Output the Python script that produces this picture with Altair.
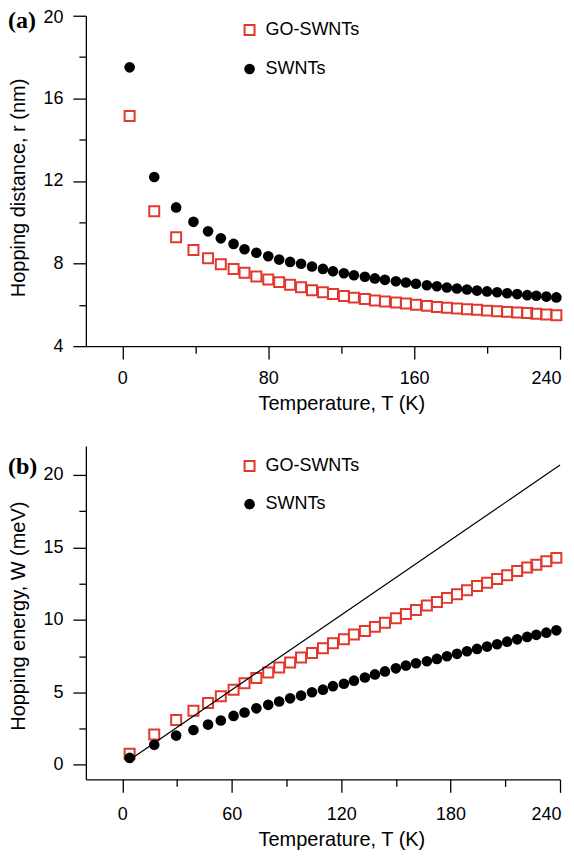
import altair as alt
import pandas as pd

# ---------------- data ----------------
T = [4, 17.5, 29.5, 39, 47, 54, 61, 67, 73.5, 80, 86, 92, 98, 104, 110, 115.5,
     121.5, 127, 133, 138.5, 144, 150, 155.5, 161, 167, 172.5, 178, 183.5, 189,
     194.5, 200, 205.5, 211, 216.5, 222, 227, 232.5, 238]

r_go = [15.15, 10.53, 9.27, 8.66, 8.26, 7.97, 7.74, 7.55, 7.37, 7.23, 7.10, 6.97,
        6.85, 6.71, 6.61, 6.52, 6.43, 6.35, 6.28, 6.21, 6.16, 6.11, 6.06, 6.01,
        5.95, 5.90, 5.86, 5.82, 5.79, 5.76, 5.72, 5.69, 5.66, 5.63, 5.60, 5.57,
        5.53, 5.50]
r_sw = [17.5, 12.19, 10.72, 10.02, 9.56, 9.22, 8.95, 8.69, 8.52, 8.35, 8.19, 8.08,
        7.99, 7.86, 7.74, 7.63, 7.53, 7.43, 7.36, 7.28, 7.21, 7.14, 7.08, 7.02,
        6.95, 6.90, 6.84, 6.79, 6.74, 6.69, 6.65, 6.61, 6.56, 6.52, 6.47, 6.44,
        6.40, 6.36]

w_go = [0.76, 2.09, 3.10, 3.74, 4.27, 4.73, 5.19, 5.63, 6.00, 6.37, 6.71, 7.06,
        7.40, 7.72, 8.04, 8.39, 8.66, 8.99, 9.24, 9.52, 9.81, 10.11, 10.41, 10.69,
        10.99, 11.24, 11.52, 11.77, 12.04, 12.34, 12.57, 12.83, 13.08, 13.38,
        13.61, 13.81, 14.04, 14.28]
w_sw = [0.48, 1.38, 2.02, 2.41, 2.78, 3.06, 3.38, 3.61, 3.90, 4.14, 4.37, 4.59,
        4.78, 5.01, 5.19, 5.43, 5.60, 5.81, 6.03, 6.24, 6.45, 6.66, 6.85, 7.01,
        7.15, 7.31, 7.49, 7.66, 7.84, 8.00, 8.16, 8.32, 8.50, 8.66, 8.83, 8.97,
        9.12, 9.28]

line_T = [6.5, 240]
line_W = [0.56, 20.68]

series = ["GO-SWNTs", "SWNTs"]
panel_labels = ["(a)", "(b)"]
x_title = "Temperature, T (K)"
ya_title = "Hopping distance, r (nm)"
yb_title = "Hopping energy, W (meV)"

xa_ticks = [0, 40, 80, 120, 160, 200, 240]
ya_ticks = [4, 6, 8, 10, 12, 14, 16, 18, 20]
xb_ticks = [0, 30, 60, 90, 120, 150, 180, 210, 240]
yb_ticks = [0, 2.5, 5, 7.5, 10, 12.5, 15, 17.5, 20]

RED = "#e2382e"
FONT = "Liberation Sans"

df = pd.DataFrame({"T": T, "r_go": r_go, "r_sw": r_sw, "w_go": w_go, "w_sw": w_sw})
line_df = pd.DataFrame({"T": line_T, "W": line_W})

xscale = alt.Scale(domain=[-20, 240], nice=False, zero=False)


def tick_size(test):
    return {"condition": {"test": test, "value": 13}, "value": 7}


def x_axis(values, major, lab_pad, title_y):
    test = f"datum.value % {major} === 0"
    return alt.Axis(values=values, format="d",
                    labelExpr=f"{test} ? datum.label : ''",
                    tickSize=tick_size(test), labelPadding=lab_pad,
                    labelOffset={"condition": {"test": "datum.value === 240", "value": -14},
                                 "value": 0},
                    labelFlush=False, labelOverlap=False,
                    title=x_title, titleX=256, titleY=title_y,
                    titleAlign="center", titleBaseline="alphabetic")


def y_axis(values, major, title, title_y, top_value, top_shift):
    test = f"datum.value % {major} === 0"
    return alt.Axis(values=values, format="d",
                    labelExpr=f"{test} ? datum.label : ''",
                    tickSize=tick_size(test), labelPadding=10,
                    labelOffset={"condition": {"test": f"datum.value === {top_value}",
                                               "value": top_shift}, "value": 0},
                    labelOverlap=False,
                    title=title, titleX=-67, titleY=title_y, titleAngle=-90,
                    titleAlign="center", titleBaseline="middle")


def legend_layers(xs, y1, y2, xt):
    d1 = pd.DataFrame({"label": [series[0]]})
    d2 = pd.DataFrame({"label": [series[1]]})
    sq = alt.Chart(d1).mark_point(shape="square", filled=False, color=RED, size=100,
                                  strokeWidth=2, opacity=1).encode(
        x=alt.value(xs), y=alt.value(y1))
    ci = alt.Chart(d2).mark_point(shape="circle", filled=True, color="black", size=113,
                                  opacity=1).encode(x=alt.value(xs), y=alt.value(y2))
    t1 = alt.Chart(d1).mark_text(align="left", baseline="middle", fontSize=18, font=FONT,
                                 color="black").encode(
        x=alt.value(xt), y=alt.value(y1), text="label:N")
    t2 = alt.Chart(d2).mark_text(align="left", baseline="middle", fontSize=18, font=FONT,
                                 color="black").encode(
        x=alt.value(xt), y=alt.value(y2), text="label:N")
    return [sq, ci, t1, t2]


def panel_label(text, y):
    return alt.Chart(pd.DataFrame({"label": [text]})).mark_text(
        align="left", baseline="alphabetic", fontSize=24, font="Liberation Serif",
        fontWeight="bold", color="black").encode(
        x=alt.value(-78), y=alt.value(y), text="label:N")


# ---------------- panel (a) ----------------
xa = alt.X("T:Q", scale=xscale, axis=x_axis(xa_ticks, 80, 10, 63))
ya_scale = alt.Scale(domain=[4, 20], nice=False, zero=False)
ya_ax = y_axis(ya_ticks, 4, ya_title, 172, 20, 2)

go_a = alt.Chart(df).mark_point(shape="square", filled=False, color=RED, size=100,
                                strokeWidth=2, opacity=1).encode(
    x=xa, y=alt.Y("r_go:Q", scale=ya_scale, axis=ya_ax))
sw_a = alt.Chart(df).mark_point(shape="circle", filled=True, color="black", size=113,
                                opacity=1).encode(
    x=xa, y=alt.Y("r_sw:Q", scale=ya_scale, axis=ya_ax))

panel_a = alt.layer(go_a, sw_a, *legend_layers(164, 14.3, 53.3, 180),
                    panel_label(panel_labels[0], 12)).properties(width=475, height=331)

# ---------------- panel (b) ----------------
xb = alt.X("T:Q", scale=xscale, axis=x_axis(xb_ticks, 60, 13, 66))
yb_scale = alt.Scale(domain=[-1, 22], nice=False, zero=False)
yb_ax = y_axis(yb_ticks, 5, yb_title, 170, 20, 0)

go_b = alt.Chart(df).mark_point(shape="square", filled=False, color=RED, size=100,
                                strokeWidth=2, opacity=1).encode(
    x=xb, y=alt.Y("w_go:Q", scale=yb_scale, axis=yb_ax))
sw_b = alt.Chart(df).mark_point(shape="circle", filled=True, color="black", size=113,
                                opacity=1).encode(
    x=xb, y=alt.Y("w_sw:Q", scale=yb_scale, axis=yb_ax))
line_b = alt.Chart(line_df).mark_line(color="black", strokeWidth=1.2).encode(
    x=xb, y=alt.Y("W:Q", scale=yb_scale, axis=yb_ax))

panel_b = alt.layer(go_b, sw_b, line_b, *legend_layers(164, 20, 58.3, 180),
                    panel_label(panel_labels[1], 28)).properties(width=475, height=334)

chart = alt.vconcat(panel_a, panel_b, spacing=33).properties(
    padding={"left": 0, "right": 0, "top": 0, "bottom": 0}
).configure_axis(
    domainColor="black", domainWidth=1.3, tickColor="black", tickWidth=1.3,
    labelColor="black", titleColor="black", labelFont=FONT, titleFont=FONT,
    labelFontSize=18, titleFontSize=20, titleFontWeight="normal", grid=False
).configure_view(stroke=None)

chart.save("out.html", embed_options={"renderer": "svg", "actions": False})
